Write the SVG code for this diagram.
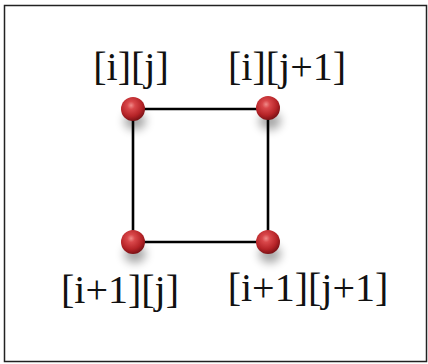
<svg xmlns="http://www.w3.org/2000/svg" width="428" height="364" viewBox="0 0 428 364">
<style>
.lbl{font-family:"Liberation Serif","Times New Roman",serif;font-size:40px;fill:#111;text-anchor:middle}
.edge{stroke:#000;stroke-width:2.6;fill:none}
</style>
<defs>
<radialGradient id="ball" cx="0.42" cy="0.35" r="0.65">
<stop offset="0" stop-color="#f08a88"/>
<stop offset="0.25" stop-color="#d9474a"/>
<stop offset="0.7" stop-color="#b52327"/>
<stop offset="1" stop-color="#7c1216"/>
</radialGradient>
<filter id="sh" x="-1" y="-1" width="3" height="3">
<feGaussianBlur stdDeviation="5"/>
</filter>
</defs>
<rect x="4.5" y="5.5" width="422" height="356" fill="#fff" stroke="#222" stroke-width="1.5"/>
<g id="connectors">
<line class="edge" x1="133" y1="109" x2="268" y2="109"/>
<line class="edge" x1="133" y1="109" x2="133" y2="242"/>
<line class="edge" x1="268" y1="109" x2="268" y2="242"/>
<line class="edge" x1="133" y1="242" x2="268" y2="242"/>
</g>
<g id="n00">
<ellipse cx="135" cy="121" rx="11" ry="9" fill="#000" opacity="0.35" filter="url(#sh)"/>
<circle cx="133" cy="109" r="12" fill="url(#ball)"/>
<text class="lbl" x="131" y="80">[i][j]</text>
</g>
<g id="n01">
<ellipse cx="270" cy="121" rx="11" ry="9" fill="#000" opacity="0.35" filter="url(#sh)"/>
<circle cx="268" cy="108" r="12" fill="url(#ball)"/>
<text class="lbl" x="287" y="80">[i][j+1]</text>
</g>
<g id="n10">
<ellipse cx="135" cy="254" rx="11" ry="9" fill="#000" opacity="0.35" filter="url(#sh)"/>
<circle cx="133" cy="242" r="12" fill="url(#ball)"/>
<text class="lbl" x="120" y="303">[i+1][j]</text>
</g>
<g id="n11">
<ellipse cx="270" cy="254" rx="11" ry="9" fill="#000" opacity="0.35" filter="url(#sh)"/>
<circle cx="268" cy="242" r="12" fill="url(#ball)"/>
<text class="lbl" x="308" y="301">[i+1][j+1]</text>
</g>
</svg>
